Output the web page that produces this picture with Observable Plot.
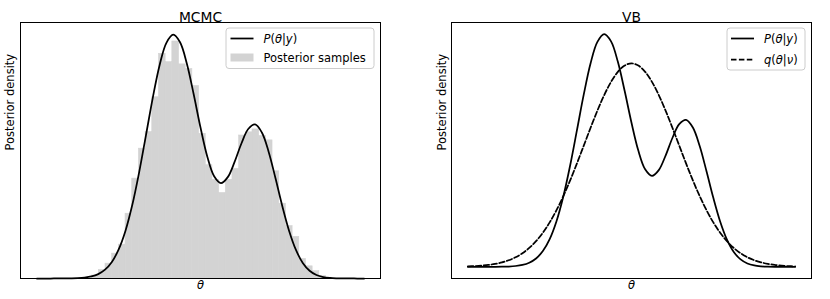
<!DOCTYPE html>
<html><head><meta charset="utf-8">
<script src="https://cdn.jsdelivr.net/npm/d3@7"></script>
<script src="https://cdn.jsdelivr.net/npm/@observablehq/plot@0.6"></script>
<style>
body{margin:0;background:#fff;}
#wrap{position:relative;width:830px;height:299px;font-family:"DejaVu Sans",sans-serif;}
#left,#right{position:absolute;top:0;}
#left{left:0;} #right{left:415px;}
svg{overflow:visible;}
</style></head><body>
<div id="wrap"><div id="left"></div><div id="right"></div></div>
<script>
// θ grid for the curves
const theta = [-5,-4.75,-4.5,-4.25,-4,-3.75,-3.5,-3.25,-3,-2.75,-2.5,-2.25,-2,-1.75,-1.5,-1.25,-1,-0.75,-0.5,-0.25,0,0.25,0.5,0.75,1,1.25,1.5,1.75,2,2.25,2.5,2.75,3,3.25,3.5,3.75,4,4.25,4.5,4.75,5,5.25,5.5,5.75,6,6.25,6.5,6.75,7];
// true posterior P(θ|y) (relative density)
const posterior = [0,0,0,0.0001,0.0002,0.0006,0.0015,0.0037,0.0084,0.0180,0.0361,0.0679,0.1194,0.1964,0.3025,0.4359,0.5878,0.7416,0.8757,0.9675,1.0008,0.9696,0.8816,0.7561,0.6197,0.4999,0.4196,0.3916,0.4161,0.4786,0.5542,0.6137,0.6324,0.5994,0.5196,0.4113,0.2969,0.1952,0.1171,0.0640,0.0319,0.0145,0.0060,0.0023,0.0008,0.0002,0.0001,0,0];
// variational approximation q(θ|ν)
const variational = [0.0020,0.0033,0.0053,0.0083,0.0128,0.0193,0.0286,0.0413,0.0586,0.0813,0.1104,0.1468,0.1912,0.2438,0.3043,0.3719,0.4451,0.5215,0.5982,0.6719,0.7389,0.7956,0.8388,0.8658,0.875,0.8658,0.8388,0.7956,0.7389,0.6719,0.5982,0.5215,0.4451,0.3719,0.3043,0.2438,0.1912,0.1468,0.1104,0.0813,0.0586,0.0413,0.0286,0.0193,0.0128,0.0083,0.0053,0.0033,0.0020];
// MCMC histogram: bin edges and densities
const binEdges = [-2.973,-2.728,-2.483,-2.238,-1.993,-1.748,-1.503,-1.258,-1.013,-0.768,-0.523,-0.278,-0.033,0.212,0.457,0.702,0.947,1.192,1.437,1.682,1.927,2.172,2.417,2.662,2.907,3.152,3.397,3.642,3.887,4.132,4.377,4.622,4.867,5.112,5.357,5.602];
const binDensity = [0.012,0.035,0.061,0.102,0.139,0.266,0.41,0.533,0.601,0.744,0.922,0.888,0.973,0.879,0.86,0.79,0.594,0.465,0.405,0.351,0.405,0.45,0.587,0.6,0.612,0.585,0.567,0.44,0.307,0.215,0.171,0.08,0.05,0.03,0.01];

const curveData = theta.map((t,i)=>({theta:t,p:posterior[i],q:variational[i]}));
const bins = binDensity.map((d,i)=>({x1:binEdges[i],x2:binEdges[i+1],y:d}));
const xDomain = [-5.6,7.6];
const pMax = d3.max(posterior);
const FONT = "DejaVu Sans";

const leftPlot = Plot.plot({
  width:415, height:299,
  marginLeft:20, marginRight:35, marginTop:22, marginBottom:21,
  x:{domain:xDomain, axis:null},
  y:{domain:[0,pMax*1.05], axis:null},
  style:{fontFamily:FONT, fontSize:"11.5px", color:"black", background:"white"},
  marks:[
    Plot.rectY(bins,{x1:"x1",x2:"x2",y:"y",fill:"#d3d3d3",stroke:"#d3d3d3",strokeWidth:0.6}),
    Plot.line(curveData,{x:"theta",y:"p",stroke:"black",strokeWidth:1.75,curve:"catmull-rom"}),
    Plot.frame({stroke:"black",strokeWidth:1}),
    Plot.text(["MCMC"],{frameAnchor:"top",dy:-10.5,fontSize:13.8,fill:"black"}),
    Plot.text(["θ"],{frameAnchor:"bottom",dy:10,fontSize:11.5,fontStyle:"italic",fill:"black"}),
    Plot.text(["Posterior density"],{frameAnchor:"left",dx:-10,rotate:-90,fontSize:11.5,fill:"black"})
  ]
});

const rightPlot = Plot.plot({
  width:415, height:299,
  marginLeft:36, marginRight:19, marginTop:22, marginBottom:21,
  x:{domain:xDomain, axis:null},
  y:{domain:[-0.05*pMax,pMax*1.05], axis:null},
  style:{fontFamily:FONT, fontSize:"11.5px", color:"black", background:"white"},
  marks:[
    Plot.line(curveData,{x:"theta",y:"p",stroke:"black",strokeWidth:1.75,curve:"catmull-rom"}),
    Plot.line(curveData,{x:"theta",y:"q",stroke:"black",strokeWidth:1.75,strokeDasharray:"5.5,2.4",curve:"catmull-rom"}),
    Plot.frame({stroke:"black",strokeWidth:1}),
    Plot.text(["VB"],{frameAnchor:"top",dy:-10.5,fontSize:13.8,fill:"black"}),
    Plot.text(["θ"],{frameAnchor:"bottom",dy:10,fontSize:11.5,fontStyle:"italic",fill:"black"}),
    Plot.text(["Posterior density"],{frameAnchor:"left",dx:-9.5,rotate:-90,fontSize:11.5,fill:"black"})
  ]
});

document.getElementById("left").appendChild(leftPlot);
document.getElementById("right").appendChild(rightPlot);

function mathLabel(g, x, y, parts){
  const t = g.append("text").attr("x",x).attr("y",y).attr("text-anchor","start")
    .attr("font-family",FONT).attr("font-size",11.5).attr("fill","black");
  parts.forEach(([s,it])=>{ t.append("tspan").attr("font-style",it?"italic":"normal").text(s); });
  return t;
}

// left legend
{
  const g = d3.select(leftPlot).append("g");
  g.append("rect").attr("x",226).attr("y",28).attr("width",148).attr("height",40.5)
    .attr("rx",3).attr("fill","white").attr("fill-opacity",0.8).attr("stroke","#cccccc").attr("stroke-width",1);
  g.append("line").attr("x1",230.5).attr("x2",253.5).attr("y1",38.5).attr("y2",38.5)
    .attr("stroke","black").attr("stroke-width",1.75);
  mathLabel(g,263.5,42.7,[["P",1],["(",0],["θ",1],["|",0],["y",1],[")",0]]);
  g.append("rect").attr("x",230.5).attr("y",53.5).attr("width",23).attr("height",8).attr("fill","#d3d3d3");
  mathLabel(g,263.5,61.7,[["Posterior samples",0]]);
}
// right legend
{
  const g = d3.select(rightPlot).append("g");
  g.append("rect").attr("x",312).attr("y",28).attr("width",78).attr("height",42)
    .attr("rx",3).attr("fill","white").attr("fill-opacity",0.8).attr("stroke","#cccccc").attr("stroke-width",1);
  g.append("line").attr("x1",316).attr("x2",339).attr("y1",38.5).attr("y2",38.5)
    .attr("stroke","black").attr("stroke-width",1.75);
  mathLabel(g,349,42.7,[["P",1],["(",0],["θ",1],["|",0],["y",1],[")",0]]);
  g.append("line").attr("x1",316).attr("x2",339).attr("y1",59.5).attr("y2",59.5)
    .attr("stroke","black").attr("stroke-width",1.75).attr("stroke-dasharray","5.5,2.4");
  mathLabel(g,349,63.7,[["q",1],["(",0],["θ",1],["|",0],["ν",1],[")",0]]);
}
</script>
</body></html>
